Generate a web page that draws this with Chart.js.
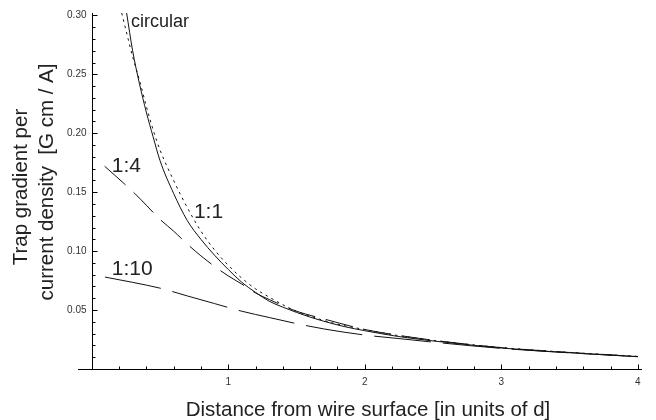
<!DOCTYPE html>
<html>
<head>
<meta charset="utf-8">
<script src="https://cdn.jsdelivr.net/npm/chart.js@4"></script>
<style>
  html, body { margin: 0; padding: 0; background: #fff; }
  #wrap { width: 656px; height: 420px; }
</style>
</head>
<body>
<div id="wrap"><canvas id="chart" width="656" height="420"></canvas></div>
<script>
// values
const circularX = [0.22, 0.25, 0.30, 0.35, 0.40, 0.45, 0.50, 0.60, 0.70, 0.80, 0.90, 1.00, 1.10, 1.20, 1.30, 1.40, 1.50, 1.60, 1.80, 2.00, 2.25, 2.50, 3.00, 3.50, 4.00];
const circularY = [0.302, 0.288, 0.265, 0.245, 0.223, 0.203, 0.186, 0.160, 0.137, 0.117, 0.101, 0.088, 0.077, 0.068, 0.061, 0.0545, 0.049, 0.0448, 0.038, 0.0335, 0.0283, 0.0243, 0.0182, 0.0141, 0.0107];

const oneToOneX = [0.256, 0.30, 0.35, 0.40, 0.45, 0.50, 0.60, 0.70, 0.80, 0.90, 1.00, 1.10, 1.20, 1.30, 1.40, 1.50, 1.60, 1.70, 1.85, 2.00, 2.25, 2.50, 2.75, 3.00, 3.50, 4.00];
const oneToOneY = [0.302, 0.270, 0.242, 0.218, 0.197, 0.177, 0.149, 0.126, 0.110, 0.0965, 0.0845, 0.0735, 0.065, 0.0575, 0.0525, 0.048, 0.044, 0.0405, 0.036, 0.0325, 0.0275, 0.0238, 0.0207, 0.0178, 0.0138, 0.0104];

const oneToFourX = [0.095, 0.25, 0.315, 0.40, 0.50, 0.60, 0.70, 0.80, 0.90, 1.00, 1.10, 1.20, 1.30, 1.40, 1.50, 1.70, 2.00, 2.25, 2.50, 3.00, 3.50, 4.00];
const oneToFourY = [0.172, 0.156, 0.149, 0.139, 0.127, 0.117, 0.106, 0.096, 0.087, 0.079, 0.072, 0.0645, 0.059, 0.0537, 0.049, 0.0425, 0.0335, 0.0285, 0.0244, 0.0181, 0.014, 0.0106];

const oneToTenX = [0.097, 0.30, 0.50, 0.70, 0.90, 1.10, 1.30, 1.50, 1.70, 2.00, 2.25, 2.50, 3.00, 3.50, 4.00];
const oneToTenY = [0.078, 0.0735, 0.0686, 0.062, 0.0555, 0.049, 0.0437, 0.0385, 0.034, 0.0288, 0.0258, 0.0228, 0.0175, 0.0137, 0.0105];

const xTickValues = [1, 2, 3, 4];
const xTickLabels = ['1', '2', '3', '4'];
const yTickValues = [0.05, 0.10, 0.15, 0.20, 0.25, 0.30];
const yTickLabels = ['0.05', '0.10', '0.15', '0.20', '0.25', '0.30'];

const X_MIN = -0.1, X_MAX = 4.03;
const Y_MIN = 0, Y_MAX = 0.302;
const X_MINOR = 0.2, Y_MINOR = 0.01;

// curve labels, placed in data coordinates (left edge, baseline)
const curveLabels = [
  { text: 'circular', x: 0.288, y: 0.290, size: 18 },
  { text: '1:1', x: 0.749, y: 0.128, size: 21 },
  { text: '1:4', x: 0.147, y: 0.167, size: 21 },
  { text: '1:10', x: 0.147, y: 0.0797, size: 21 },
];

const FONT = '"Liberation Sans", Arial, sans-serif';
const INK = '#222';

const toPoints = (xs, ys) => xs.map((x, i) => ({ x, y: ys[i] }));

const curve = (label, xs, ys, dash) => ({
  label,
  data: toPoints(xs, ys),
  borderColor: '#111',
  borderWidth: 1,
  borderDash: dash,
  pointRadius: 0,
  fill: false,
  cubicInterpolationMode: 'monotone',
});

const axesPlugin = {
  id: 'axes',
  afterDraw(chart) {
    const { ctx, chartArea } = chart;
    const xs = chart.scales.x, ys = chart.scales.y;
    const x0 = Math.round(xs.getPixelForValue(0)) + 0.5;
    const y0 = Math.round(ys.getPixelForValue(0)) + 0.5;
    ctx.save();
    ctx.strokeStyle = '#000';
    ctx.lineWidth = 1;
    ctx.beginPath();
    ctx.moveTo(chartArea.left, y0);
    ctx.lineTo(chartArea.right, y0);
    ctx.moveTo(x0, y0);
    ctx.lineTo(x0, chartArea.top);
    for (let i = 1; i * X_MINOR <= 4.001; i++) {
      const px = Math.round(xs.getPixelForValue(i * X_MINOR)) + 0.5;
      const len = i % 5 === 0 ? 5 : 3;
      ctx.moveTo(px, y0);
      ctx.lineTo(px, y0 - len);
    }
    for (let i = 1; i * Y_MINOR <= 0.3001; i++) {
      const py = Math.round(ys.getPixelForValue(i * Y_MINOR)) + 0.5;
      const len = i % 5 === 0 ? 5 : 3;
      ctx.moveTo(x0, py);
      ctx.lineTo(x0 + len, py);
    }
    ctx.stroke();

    // tick labels
    ctx.fillStyle = '#333';
    ctx.font = `10px ${FONT}`;
    ctx.textAlign = 'center';
    ctx.textBaseline = 'middle';
    xTickValues.forEach((v, i) => ctx.fillText(xTickLabels[i], xs.getPixelForValue(v), y0 + 13));
    ctx.textAlign = 'right';
    yTickValues.forEach((v, i) => ctx.fillText(yTickLabels[i], x0 - 6, ys.getPixelForValue(v)));

    // curve labels
    ctx.fillStyle = INK;
    ctx.textAlign = 'left';
    ctx.textBaseline = 'alphabetic';
    for (const l of curveLabels) {
      ctx.font = `${l.size}px ${FONT}`;
      ctx.fillText(l.text, xs.getPixelForValue(l.x), ys.getPixelForValue(l.y));
    }

    // axis titles
    ctx.font = `20.5px ${FONT}`;
    ctx.textAlign = 'center';
    ctx.fillText('Distance from wire surface [in units of d]', 368, 416);
    ctx.save();
    ctx.translate(27, 187);
    ctx.rotate(-Math.PI / 2);
    ctx.fillText('Trap gradient per', 0, 0);
    ctx.restore();
    ctx.save();
    ctx.translate(53, 182);
    ctx.rotate(-Math.PI / 2);
    ctx.fillText('current density  [G cm / A]', 0, 0);
    ctx.restore();
    ctx.restore();
  },
};

new Chart(document.getElementById('chart'), {
  type: 'line',
  data: {
    datasets: [
      curve('circular', circularX, circularY, [2.5, 4]),
      curve('1:1', oneToOneX, oneToOneY, []),
      curve('1:4', oneToFourX, oneToFourY, [28, 11]),
      curve('1:10', oneToTenX, oneToTenY, [57, 12]),
    ],
  },
  options: {
    responsive: false,
    animation: false,
    layout: { padding: { left: 78, right: 14, top: 13, bottom: 51 } },
    scales: {
      x: { type: 'linear', min: X_MIN, max: X_MAX, display: false },
      y: { type: 'linear', min: Y_MIN, max: Y_MAX, display: false },
    },
    plugins: { legend: { display: false }, tooltip: { enabled: false } },
  },
  plugins: [axesPlugin],
});
</script>
</body>
</html>
